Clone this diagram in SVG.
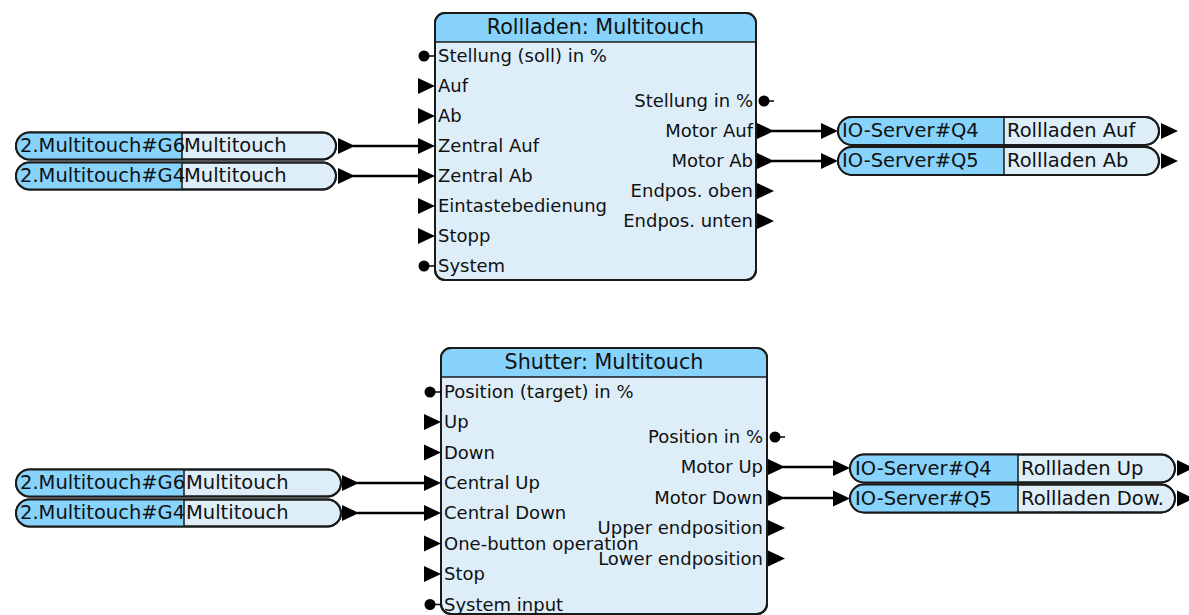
<svg xmlns="http://www.w3.org/2000/svg" xmlns:xlink="http://www.w3.org/1999/xlink" width="1189" height="615" viewBox="0 0 1189 615">
<style>
text{font-family:"DejaVu Sans",sans-serif;fill:#111}
.title{font-size:20.7px;text-anchor:middle}
.lbl{font-size:18px}
.r{text-anchor:end}
.pt{font-size:19.5px}
.body{fill:#ddeef9;stroke:#1a1a1a;stroke-width:2}
.hdr{fill:#87d3fb}
.hl{stroke:#1a1a1a;stroke-width:1.5}
.pill{fill:#ddeef9;stroke:#1a1a1a;stroke-width:2}
.pl{fill:#87d3fb}
.div{stroke:#1a1a1a;stroke-width:1.5}
.port{fill:#000}
.pline{stroke:#000;stroke-width:1.5}
.conn{stroke:#000;stroke-width:2.6;fill:none}
</style>
<defs>
<path id="tri" d="M0,-8 L17,0 L0,8 Z" fill="#000"/>
</defs>

<g id="connectors">
<line class="conn" x1="353" y1="146" x2="419" y2="146"/>
<line class="conn" x1="353" y1="176" x2="419" y2="176"/>
<line class="conn" x1="772" y1="131" x2="821" y2="131"/>
<line class="conn" x1="772" y1="161" x2="821" y2="161"/>
<line class="conn" x1="357" y1="483" x2="425" y2="483"/>
<line class="conn" x1="357" y1="513" x2="425" y2="513"/>
<line class="conn" x1="783" y1="467" x2="833" y2="467"/>
<line class="conn" x1="783" y1="498" x2="833" y2="498"/>
</g>

<g id="block-rollladen">
<rect class="body" x="435" y="13" width="321" height="267" rx="10"/>
<path class="hdr" d="M435,42 V23 A10,10 0 0 1 445,13 H746 A10,10 0 0 1 756,23 V42 Z"/>
<line class="hl" x1="435" y1="42" x2="756" y2="42"/>
<rect x="435" y="13" width="321" height="267" rx="10" fill="none" stroke="#1a1a1a" stroke-width="2"/>
<text class="title" x="595.5" y="33.5">Rollladen: Multitouch</text>
<circle class="port" cx="424" cy="56" r="5.5"/><line class="pline" x1="428" y1="56" x2="435" y2="56"/>
<use xlink:href="#tri" x="418" y="86"/>
<use xlink:href="#tri" x="418" y="116"/>
<use xlink:href="#tri" x="418" y="146"/>
<use xlink:href="#tri" x="418" y="176"/>
<use xlink:href="#tri" x="418" y="206"/>
<use xlink:href="#tri" x="418" y="236"/>
<circle class="port" cx="424" cy="266" r="5.5"/><line class="pline" x1="428" y1="266" x2="435" y2="266"/>
<text class="lbl" x="438" y="62">Stellung (soll) in %</text>
<text class="lbl" x="438" y="92">Auf</text>
<text class="lbl" x="438" y="122">Ab</text>
<text class="lbl" x="438" y="152">Zentral Auf</text>
<text class="lbl" x="438" y="182">Zentral Ab</text>
<text class="lbl" x="438" y="212">Eintastebedienung</text>
<text class="lbl" x="438" y="242">Stopp</text>
<text class="lbl" x="438" y="272">System</text>
<circle class="port" cx="764" cy="101" r="5.5"/><line class="pline" x1="768" y1="101" x2="774" y2="101"/>
<use xlink:href="#tri" x="757" y="131"/>
<use xlink:href="#tri" x="757" y="161"/>
<use xlink:href="#tri" x="757" y="191"/>
<use xlink:href="#tri" x="757" y="221"/>
<text class="lbl r" x="753" y="107">Stellung in %</text>
<text class="lbl r" x="753" y="137">Motor Auf</text>
<text class="lbl r" x="753" y="167">Motor Ab</text>
<text class="lbl r" x="753" y="197">Endpos. oben</text>
<text class="lbl r" x="753" y="227">Endpos. unten</text>
</g>

<g id="block-shutter">
<rect class="body" x="441" y="348" width="326" height="266" rx="10"/>
<path class="hdr" d="M441,377 V358 A10,10 0 0 1 451,348 H757 A10,10 0 0 1 767,358 V377 Z"/>
<line class="hl" x1="441" y1="377" x2="767" y2="377"/>
<rect x="441" y="348" width="326" height="266" rx="10" fill="none" stroke="#1a1a1a" stroke-width="2"/>
<text class="title" x="604" y="369">Shutter: Multitouch</text>
<circle class="port" cx="430" cy="392" r="5.5"/><line class="pline" x1="434" y1="392" x2="441" y2="392"/>
<use xlink:href="#tri" x="424" y="422"/>
<use xlink:href="#tri" x="424" y="452.5"/>
<use xlink:href="#tri" x="424" y="483"/>
<use xlink:href="#tri" x="424" y="513"/>
<use xlink:href="#tri" x="424" y="543.5"/>
<use xlink:href="#tri" x="424" y="574"/>
<circle class="port" cx="430" cy="604.5" r="5.5"/><line class="pline" x1="434" y1="604.5" x2="441" y2="604.5"/>
<text class="lbl" x="444" y="398">Position (target) in %</text>
<text class="lbl" x="444" y="428">Up</text>
<text class="lbl" x="444" y="458.5">Down</text>
<text class="lbl" x="444" y="489">Central Up</text>
<text class="lbl" x="444" y="519">Central Down</text>
<text class="lbl" x="444" y="549.5">One-button operation</text>
<text class="lbl" x="444" y="580">Stop</text>
<text class="lbl" x="444" y="610.5">System input</text>
<circle class="port" cx="775" cy="437" r="5.5"/><line class="pline" x1="779" y1="437" x2="785" y2="437"/>
<use xlink:href="#tri" x="768" y="467"/>
<use xlink:href="#tri" x="768" y="498"/>
<use xlink:href="#tri" x="768" y="528"/>
<use xlink:href="#tri" x="768" y="558.5"/>
<text class="lbl r" x="763" y="443">Position in %</text>
<text class="lbl r" x="763" y="473">Motor Up</text>
<text class="lbl r" x="763" y="504">Motor Down</text>
<text class="lbl r" x="763" y="534">Upper endposition</text>
<text class="lbl r" x="763" y="564.5">Lower endposition</text>
</g>

<g id="src-g6-top">
<rect class="pill" x="16" y="132.5" width="320" height="27" rx="13.5"/>
<path class="pl" d="M29.5,132.5 H182 V159.5 H29.5 A13.5,13.5 0 0 1 29.5,132.5 Z"/>
<line class="div" x1="182" y1="132.5" x2="182" y2="159.5"/>
<rect x="16" y="132.5" width="320" height="27" rx="13.5" fill="none" stroke="#1a1a1a" stroke-width="2"/>
<text class="pt" x="20" y="151.5">2.Multitouch#G6</text>
<text class="pt" x="184" y="151.5">Multitouch</text>
<use xlink:href="#tri" x="338" y="146"/>
</g>
<g id="src-g4-top">
<rect class="pill" x="16" y="162.5" width="320" height="27" rx="13.5"/>
<path class="pl" d="M29.5,162.5 H182 V189.5 H29.5 A13.5,13.5 0 0 1 29.5,162.5 Z"/>
<line class="div" x1="182" y1="162.5" x2="182" y2="189.5"/>
<rect x="16" y="162.5" width="320" height="27" rx="13.5" fill="none" stroke="#1a1a1a" stroke-width="2"/>
<text class="pt" x="20" y="181.5">2.Multitouch#G4</text>
<text class="pt" x="184" y="181.5">Multitouch</text>
<use xlink:href="#tri" x="338" y="176"/>
</g>

<g id="src-g6-bottom">
<rect class="pill" x="16" y="469.5" width="325" height="27" rx="13.5"/>
<path class="pl" d="M29.5,469.5 H184 V496.5 H29.5 A13.5,13.5 0 0 1 29.5,469.5 Z"/>
<line class="div" x1="184" y1="469.5" x2="184" y2="496.5"/>
<rect x="16" y="469.5" width="325" height="27" rx="13.5" fill="none" stroke="#1a1a1a" stroke-width="2"/>
<text class="pt" x="20" y="488.5">2.Multitouch#G6</text>
<text class="pt" x="186" y="488.5">Multitouch</text>
<use xlink:href="#tri" x="342" y="483"/>
</g>
<g id="src-g4-bottom">
<rect class="pill" x="16" y="499.5" width="325" height="27" rx="13.5"/>
<path class="pl" d="M29.5,499.5 H184 V526.5 H29.5 A13.5,13.5 0 0 1 29.5,499.5 Z"/>
<line class="div" x1="184" y1="499.5" x2="184" y2="526.5"/>
<rect x="16" y="499.5" width="325" height="27" rx="13.5" fill="none" stroke="#1a1a1a" stroke-width="2"/>
<text class="pt" x="20" y="518.5">2.Multitouch#G4</text>
<text class="pt" x="186" y="518.5">Multitouch</text>
<use xlink:href="#tri" x="342" y="513"/>
</g>

<g id="io-q4-top">
<use xlink:href="#tri" x="821" y="131"/>
<rect class="pill" x="838" y="117" width="321" height="28" rx="14"/>
<path class="pl" d="M852,117 H1004 V145 H852 A14,14 0 0 1 852,117 Z"/>
<line class="div" x1="1004" y1="117" x2="1004" y2="145"/>
<rect x="838" y="117" width="321" height="28" rx="14" fill="none" stroke="#1a1a1a" stroke-width="2"/>
<text class="pt" x="842" y="137">IO-Server#Q4</text>
<text class="pt" x="1007" y="137">Rollladen Auf</text>
<use xlink:href="#tri" x="1161" y="131"/>
</g>
<g id="io-q5-top">
<use xlink:href="#tri" x="821" y="161"/>
<rect class="pill" x="838" y="147" width="321" height="28" rx="14"/>
<path class="pl" d="M852,147 H1004 V175 H852 A14,14 0 0 1 852,147 Z"/>
<line class="div" x1="1004" y1="147" x2="1004" y2="175"/>
<rect x="838" y="147" width="321" height="28" rx="14" fill="none" stroke="#1a1a1a" stroke-width="2"/>
<text class="pt" x="842" y="167">IO-Server#Q5</text>
<text class="pt" x="1007" y="167">Rollladen Ab</text>
<use xlink:href="#tri" x="1161" y="161"/>
</g>

<g id="io-q4-bottom">
<use xlink:href="#tri" x="833" y="468"/>
<rect class="pill" x="850" y="454.5" width="325" height="28" rx="14"/>
<path class="pl" d="M864,454.5 H1018 V482.5 H864 A14,14 0 0 1 864,454.5 Z"/>
<line class="div" x1="1018" y1="454.5" x2="1018" y2="482.5"/>
<rect x="850" y="454.5" width="325" height="28" rx="14" fill="none" stroke="#1a1a1a" stroke-width="2"/>
<text class="pt" x="855" y="474.5">IO-Server#Q4</text>
<text class="pt" x="1021" y="474.5">Rollladen Up</text>
<use xlink:href="#tri" x="1177" y="468"/>
</g>
<g id="io-q5-bottom">
<use xlink:href="#tri" x="833" y="498.5"/>
<rect class="pill" x="850" y="484.5" width="325" height="28" rx="14"/>
<path class="pl" d="M864,484.5 H1018 V512.5 H864 A14,14 0 0 1 864,484.5 Z"/>
<line class="div" x1="1018" y1="484.5" x2="1018" y2="512.5"/>
<rect x="850" y="484.5" width="325" height="28" rx="14" fill="none" stroke="#1a1a1a" stroke-width="2"/>
<text class="pt" x="855" y="504.5">IO-Server#Q5</text>
<text class="pt" x="1021" y="504.5">Rollladen Dow.</text>
<use xlink:href="#tri" x="1177" y="498.5"/>
</g>
</svg>
